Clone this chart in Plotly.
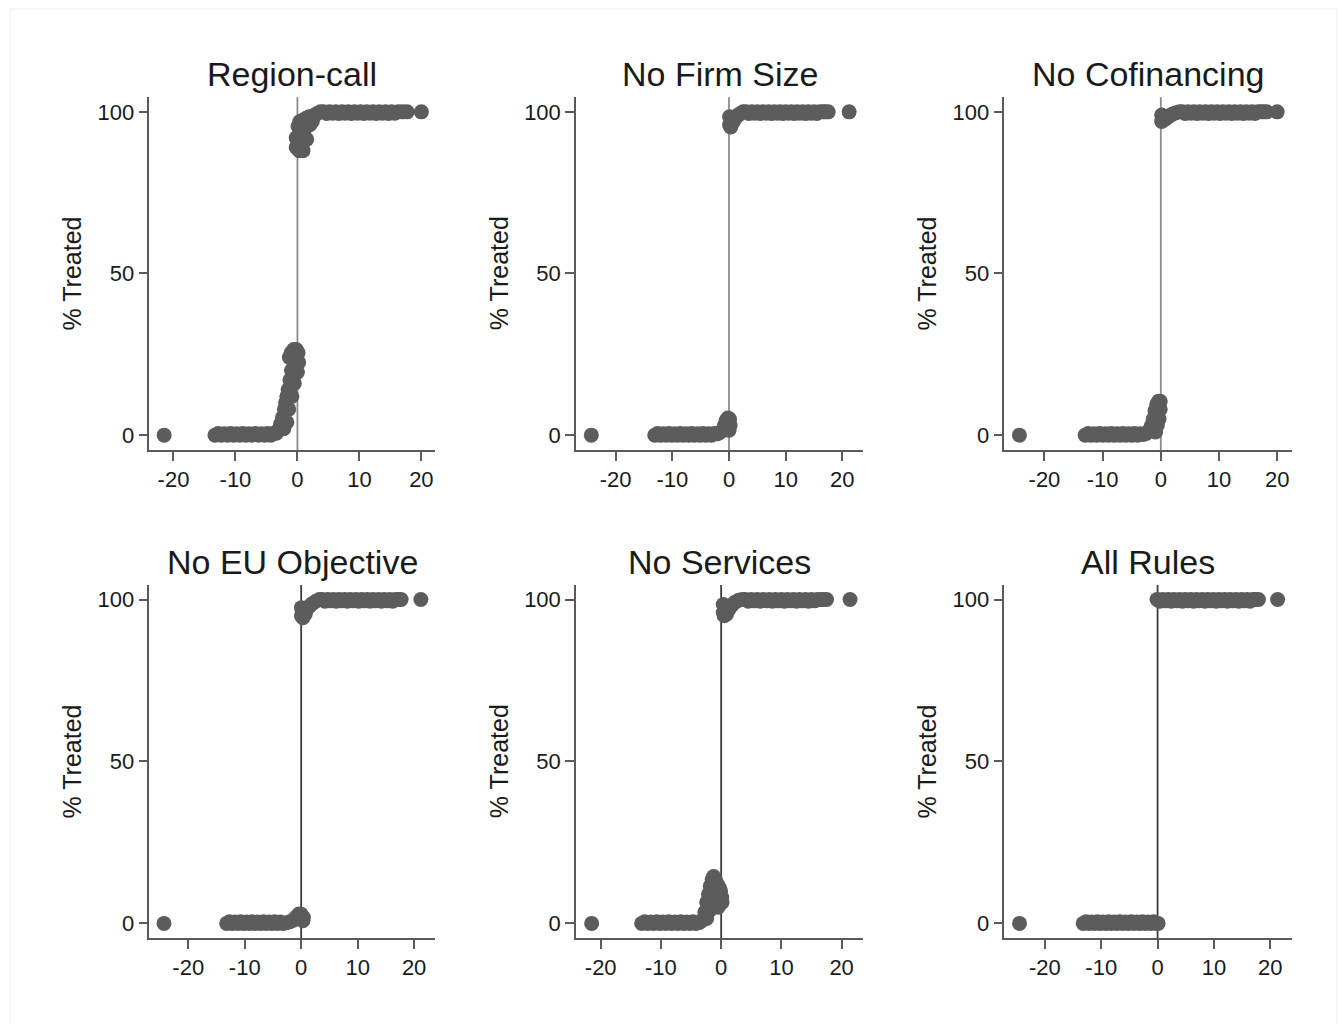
import plotly.graph_objects as go

# ---------------- data ----------------
titles = ["Region-call", "No Firm Size", "No Cofinancing",
          "No EU Objective", "No Services", "All Rules"]
x_ticks = [-20, -10, 0, 10, 20]
x_tick_labels = ["-20", "-10", "0", "10", "20"]
y_ticks = [0, 50, 100]
y_tick_labels = ["0", "50", "100"]
y_label = "% Treated"

region_call_x = [
    -21.5,
    -13.3, -12.8, -12.3, -11.8, -11.3, -10.8, -10.3, -9.8, -9.3, -8.8,
    -8.3, -7.8, -7.3, -6.8, -6.3, -5.8, -5.3, -4.8, -4.3, -3.8,
    -3.4, -3.0, -2.7, -2.4, -2.1, -1.9, -1.7, -1.5, -1.2, -0.95,
    -1.3, -1.0, -0.6, -0.2, 0.1, 0.2, 0.0, -0.5, -0.9, -1.4,
    -1.7, -2.2, -0.4, -0.7, -1.1,
    -0.2, -0.2, 0.1, 0.3, 0.6, 0.9, 0.5, 1.0, 1.3, 1.5,
    0.4, 0.9, 1.4, 1.9, 2.0, 2.4, 2.8, 3.2, 3.7,
    4.2, 4.7, 5.2, 5.7, 6.2, 6.7, 7.2, 7.7, 8.2, 8.7,
    9.2, 9.7, 10.2, 10.7, 11.2, 11.7, 12.2, 12.7, 13.2, 13.7,
    14.2, 14.7, 15.2, 15.7, 16.3, 17.0, 17.7,
    20.0,
]
region_call_y = [
    0,
    0, 0.5, 0, 0.4, 0, 0.5, 0, 0.4, 0, 0.5,
    0, 0.4, 0, 0.5, 0, 0.4, 0, 0.5, 0, 0.6,
    0.6, 1.8, 3.5, 5.5, 8.0, 10.0, 12.0, 14.0, 17.0, 20.0,
    24.0, 25.5, 26.5, 26.5, 25.5, 22.5, 19.5, 16.0, 12.0, 8.0,
    4.0, 2.0, 22.0, 19.0, 15.0,
    89.0, 92.0, 95.5, 88.0, 89.5, 88.0, 94.0, 92.0, 95.0, 91.5,
    97.0, 97.5, 98.0, 98.5, 96.0, 97.0, 99.0, 99.5, 100,
    100, 99.5, 100, 99.6, 100, 99.5, 100, 99.6, 100, 99.5,
    100, 99.6, 100, 99.5, 100, 99.6, 100, 99.5, 100, 99.6,
    100, 99.5, 100, 99.6, 100, 100, 100,
    100,
]

firm_size_x = [
    -24.3,
    -13.1, -12.6, -12.1, -11.6, -11.1, -10.6, -10.1, -9.6, -9.1, -8.6, -8.1,
    -7.6, -7.1, -6.6, -6.1, -5.6, -5.1, -4.6, -4.1, -3.6, -3.1, -2.6,
    -2.1, -1.6, -1.1, -0.8, -0.5, -0.2, 0.1, 0.2, 0.0, -0.3,
    0.1, 0.1, 0.3, 0.6, 0.9, 1.2, 1.6, 2.0, 2.5,
    3.0, 3.5, 4.0, 4.5, 5.0, 5.5, 6.0, 6.5, 7.0, 7.5,
    8.0, 8.5, 9.0, 9.5, 10.0, 10.5, 11.0, 11.5, 12.0, 12.5,
    13.0, 13.5, 14.0, 14.5, 15.0, 15.5, 16.0, 16.6, 17.0, 17.5,
    21.2,
]
firm_size_y = [
    0,
    0, 0.5, 0, 0.4, 0, 0.5, 0, 0.4, 0, 0.5, 0,
    0.4, 0, 0.5, 0, 0.4, 0, 0.5, 0, 0.4, 0, 0.5,
    0.4, 0.8, 1.5, 3.0, 4.5, 5.3, 5.0, 3.0, 1.5, 2.0,
    96.0, 98.5, 95.3, 96.5, 97.5, 98.3, 99.0, 99.5, 100,
    100, 99.5, 100, 99.6, 100, 99.5, 100, 99.6, 100, 99.5,
    100, 99.6, 100, 99.5, 100, 99.6, 100, 99.5, 100, 99.6,
    100, 99.5, 100, 99.6, 100, 99.5, 100, 100, 100, 100,
    100,
]

cofinancing_x = [
    -24.3,
    -13.0, -12.5, -12.0, -11.5, -11.0, -10.5, -10.0, -9.5, -9.0, -8.5,
    -8.0, -7.5, -7.0, -6.5, -6.0, -5.5, -5.0, -4.5, -4.0, -3.5,
    -3.0, -2.5, -2.0, -1.6, -1.3, -1.0, -0.7, -0.4, -0.1, -0.1,
    -0.3, -0.6, -0.9,
    0.15, 0.15, 0.5, 1.0, 1.5, 2.0, 2.6, 3.2,
    3.7, 4.2, 4.7, 5.2, 5.7, 6.2, 6.7, 7.2, 7.7, 8.2,
    8.7, 9.2, 9.7, 10.2, 10.7, 11.2, 11.7, 12.2, 12.7, 13.2,
    13.7, 14.2, 14.7, 15.2, 15.7, 16.2, 16.7, 17.2, 17.7, 18.2,
    20.0,
]
cofinancing_y = [
    0,
    0, 0.5, 0, 0.4, 0, 0.5, 0, 0.4, 0, 0.5,
    0, 0.4, 0, 0.5, 0, 0.4, 0, 0.5, 0, 0.4,
    0.2, 0.5, 1.5, 3.0, 5.0, 7.5, 9.5, 10.5, 10.5, 8.0,
    5.0, 3.0, 1.0,
    97.0, 99.0, 97.5, 98.0, 98.8, 99.3, 99.7, 100,
    100, 99.5, 100, 99.6, 100, 99.5, 100, 99.6, 100, 99.5,
    100, 99.6, 100, 99.5, 100, 99.6, 100, 99.5, 100, 99.6,
    100, 99.5, 100, 99.6, 100, 99.5, 100, 100, 100, 100,
    100,
]

eu_objective_x = [
    -24.3,
    -13.2, -12.7, -12.2, -11.7, -11.2, -10.7, -10.2, -9.7, -9.2, -8.7, -8.2,
    -7.7, -7.2, -6.7, -6.2, -5.7, -5.2, -4.7, -4.2, -3.7, -3.2,
    -2.6, -2.0, -1.4, -0.9, -0.4, 0.0, 0.4, 0.3,
    0.05, 0.05, 0.3, 0.7, 1.0, 1.5, 2.0, 2.6, 3.2,
    3.7, 4.2, 4.7, 5.2, 5.7, 6.2, 6.7, 7.2, 7.7, 8.2,
    8.7, 9.2, 9.7, 10.2, 10.7, 11.2, 11.7, 12.2, 12.7, 13.2,
    13.7, 14.2, 14.7, 15.2, 15.7, 16.2, 16.7, 17.2, 17.7,
    21.2,
]
eu_objective_y = [
    0,
    0, 0.5, 0, 0.4, 0, 0.5, 0, 0.4, 0, 0.5, 0,
    0.4, 0, 0.5, 0, 0.4, 0, 0.5, 0, 0.4, 0,
    0.2, 0.5, 1.0, 2.0, 2.9, 2.8, 1.8, 0.8,
    95.0, 97.5, 94.4, 95.5, 97.0, 98.0, 98.8, 99.5, 100,
    100, 99.5, 100, 99.6, 100, 99.5, 100, 99.6, 100, 99.5,
    100, 99.6, 100, 99.5, 100, 99.6, 100, 99.5, 100, 99.6,
    100, 99.5, 100, 99.6, 100, 99.5, 100, 100, 100,
    100,
]

services_x = [
    -21.5,
    -13.2, -12.7, -12.2, -11.7, -11.2, -10.7, -10.2, -9.7, -9.2, -8.7,
    -8.2, -7.7, -7.2, -6.7, -6.2, -5.7, -5.2, -4.7, -4.2,
    -3.6, -3.1, -2.7, -2.4, -2.1, -1.8, -1.5, -1.25, -0.95, -0.6,
    -0.3, -0.1, 0.1, 0.15, -0.3, -0.7, -1.0, -1.5, -1.9, -2.4, -0.5,
    0.35, 0.35, 0.5, 0.9, 1.3, 1.8, 2.3, 2.9, 3.5,
    4.0, 4.5, 5.0, 5.5, 6.0, 6.5, 7.0, 7.5, 8.0, 8.5,
    9.0, 9.5, 10.0, 10.5, 11.0, 11.5, 12.0, 12.5, 13.0, 13.5,
    14.0, 14.5, 15.0, 15.5, 16.0, 16.5, 17.0, 17.5,
    21.4,
]
services_y = [
    0,
    0, 0.5, 0, 0.4, 0, 0.5, 0, 0.4, 0, 0.5,
    0, 0.4, 0, 0.5, 0, 0.4, 0, 0.5, 0,
    0.3, 1.0, 3.5, 6.5, 9.0, 11.5, 13.5, 14.5, 13.5, 12.0,
    11.0, 10.0, 8.0, 6.5, 7.0, 9.0, 10.5, 7.0, 4.0, 1.5, 5.0,
    96.0, 98.5, 95.0, 95.5, 97.0, 98.3, 99.2, 99.8, 100,
    100, 99.5, 100, 99.6, 100, 99.5, 100, 99.6, 100, 99.5,
    100, 99.6, 100, 99.5, 100, 99.6, 100, 99.5, 100, 99.6,
    100, 99.5, 100, 99.6, 100, 100, 100, 100,
    100,
]

all_rules_x = [
    -24.5,
    -13.2, -12.7, -12.2, -11.7, -11.2, -10.7, -10.2, -9.7, -9.2, -8.7,
    -8.2, -7.7, -7.2, -6.7, -6.2, -5.7, -5.2, -4.7, -4.2, -3.7,
    -3.2, -2.7, -2.2, -1.7, -1.2, -0.7, -0.2, 0.1,
    -0.1, 0.4, 0.9, 1.4, 1.9, 2.4, 2.9, 3.4, 3.9, 4.4,
    4.9, 5.4, 5.9, 6.4, 6.9, 7.4, 7.9, 8.4, 8.9, 9.4,
    9.9, 10.4, 10.9, 11.4, 11.9, 12.4, 12.9, 13.4, 13.9, 14.4,
    14.9, 15.4, 15.9, 16.4, 16.9, 17.4, 17.9,
    21.3,
]
all_rules_y = [
    0,
    0, 0.5, 0, 0.4, 0, 0.5, 0, 0.4, 0, 0.5,
    0, 0.4, 0, 0.5, 0, 0.4, 0, 0.5, 0, 0.4,
    0, 0.5, 0, 0.4, 0, 0.5, 0, 0,
    100, 99.5, 100, 99.6, 100, 99.5, 100, 99.6, 100, 99.5,
    100, 99.6, 100, 99.5, 100, 99.6, 100, 99.5, 100, 99.6,
    100, 99.5, 100, 99.6, 100, 99.5, 100, 99.6, 100, 99.5,
    100, 99.6, 100, 99.5, 100, 100, 100,
    100,
]

series = [
    (region_call_x, region_call_y),
    (firm_size_x, firm_size_y),
    (cofinancing_x, cofinancing_y),
    (eu_objective_x, eu_objective_y),
    (services_x, services_y),
    (all_rules_x, all_rules_y),
]

# ---------------- layout ----------------
W, H = 1340, 1024
col_px = [(149.3, 435.0), (576.0, 863.3), (1004.3, 1291.7)]
row_px = [(97.3, 450.0), (585.0, 938.3)]
x_ranges = [[-23.9, 22.2], [-27.0, 23.7], [-26.9, 22.5],
            [-26.9, 23.7], [-24.1, 23.6], [-27.2, 23.8]]
y_range = [-4.6, 104.5]
vline_colors = ["#8c8c8c", "#8c8c8c", "#8c8c8c", "#3c3c3c", "#3c3c3c", "#3c3c3c"]

FONT = "Liberation Sans, Arial, sans-serif"
AXIS_COL = "#5a5a5a"
TXT_COL = "#1a1a1a"
MARKER_COL = "#5c5c5c"

fig = go.Figure()
layout = dict(
    width=W, height=H, autosize=False,
    margin=dict(l=0, r=0, t=0, b=0, pad=0),
    paper_bgcolor="white", plot_bgcolor="white",
    showlegend=False,
    font=dict(family=FONT, color=TXT_COL),
)
shapes = []
annotations = []

for i, (xs, ys) in enumerate(series):
    r, c = divmod(i, 3)
    n = "" if i == 0 else str(i + 1)
    x0p, x1p = col_px[c]
    y0p, y1p = row_px[r]
    xdom = [x0p / W, x1p / W]
    ydom = [1 - y1p / H, 1 - y0p / H]

    fig.add_trace(go.Scatter(
        x=xs, y=ys, mode="markers",
        marker=dict(size=15, color=MARKER_COL, line=dict(width=0)),
        xaxis="x" + n, yaxis="y" + n, showlegend=False,
    ))

    common = dict(
        showline=True, linecolor=AXIS_COL, linewidth=1.5,
        ticks="outside", ticklen=9, tickwidth=1.5, tickcolor=AXIS_COL,
        showgrid=False, zeroline=False,
        tickfont=dict(family=FONT, size=22, color=TXT_COL),
        fixedrange=True,
    )
    layout["xaxis" + n] = dict(domain=xdom, range=x_ranges[i], anchor="y" + n,
                               tickmode="array", tickvals=x_ticks,
                               ticktext=x_tick_labels, **common)
    layout["yaxis" + n] = dict(domain=ydom, range=y_range, anchor="x" + n,
                               tickmode="array", tickvals=y_ticks,
                               ticktext=y_tick_labels, **common)

    shapes.append(dict(type="line", xref="x" + n, yref="y" + n + " domain",
                       x0=0, x1=0, y0=0, y1=1, layer="below",
                       line=dict(color=vline_colors[i], width=1.8)))

    annotations.append(dict(
        text=titles[i], xref="paper", yref="paper",
        x=(x0p + x1p) / 2 / W, y=1 - (y0p - 23) / H,
        xanchor="center", yanchor="middle", showarrow=False,
        font=dict(family=FONT, size=34, color=TXT_COL),
    ))
    annotations.append(dict(
        text=y_label, xref="paper", yref="paper",
        x=(x0p - 77.5) / W, y=1 - (y0p + (y1p - y0p) * 0.5) / H,
        xanchor="center", yanchor="middle", showarrow=False, textangle=-90,
        font=dict(family=FONT, size=25, color=TXT_COL),
    ))

# faint outer frame
shapes.append(dict(type="rect", xref="paper", yref="paper",
                   x0=10 / W, x1=1337 / W, y0=-0.02, y1=1 - 9 / H,
                   line=dict(color="#eeeeee", width=1), layer="below"))

layout["shapes"] = shapes
layout["annotations"] = annotations
fig.update_layout(**layout)

fig.write_html("out.html")
